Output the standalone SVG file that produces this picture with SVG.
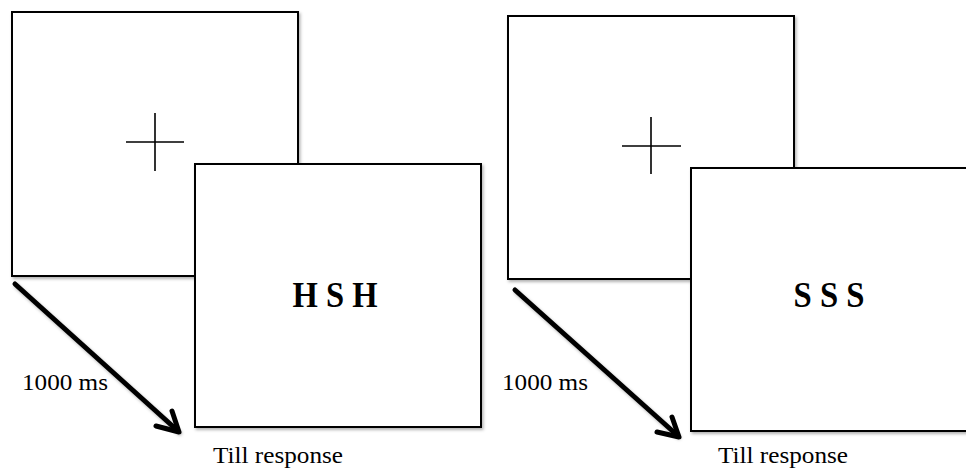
<svg xmlns="http://www.w3.org/2000/svg" width="966" height="469" viewBox="0 0 966 469">
  <style>
    .frame { fill: #ffffff; stroke: #000000; stroke-width: 2; filter: url(#shadow); }
    .fix { stroke: #000000; stroke-width: 1.6; fill: none; }
    .shaft { stroke: #000000; stroke-width: 5; fill: none; stroke-linecap: round; filter: url(#shadow); }
    .head { stroke: #000000; stroke-width: 5; fill: none; stroke-linecap: round; stroke-linejoin: round; }
    .label { font-family: "Liberation Serif", "Times New Roman", serif; font-size: 24px; fill: #000000; }
    .stim { font-family: "Liberation Serif", "Times New Roman", serif; font-size: 36px; font-weight: bold; fill: #000000; text-anchor: middle; }
  </style>
  <defs>
    <filter id="shadow" x="-10%" y="-10%" width="130%" height="130%">
      <feDropShadow dx="1.5" dy="2" stdDeviation="1.5" flood-color="#000000" flood-opacity="0.3"/>
    </filter>
  </defs>
  <rect width="966" height="469" fill="#ffffff"/>

  <!-- left trial: fixation screen -->
  <g id="fixation-left">
    <rect class="frame" x="12" y="12" width="286" height="264"/>
    <path class="fix" d="M126 142 H184 M155 113 V171"/>
  </g>
  <!-- left trial: stimulus screen -->
  <g id="stimulus-left">
    <rect class="frame" x="195" y="164" width="286" height="263"/>
    <text class="stim" x="335" y="307" textLength="85" lengthAdjust="spacingAndGlyphs">H S H</text>
  </g>

  <!-- right trial: fixation screen -->
  <g id="fixation-right">
    <rect class="frame" x="508" y="16" width="286" height="263"/>
    <path class="fix" d="M622 146 H681 M651 117 V174"/>
  </g>
  <!-- right trial: stimulus screen -->
  <g id="stimulus-right">
    <rect class="frame" x="691" y="168" width="300" height="263"/>
    <text class="stim" x="829" y="307" textLength="71" lengthAdjust="spacingAndGlyphs">S S S</text>
  </g>

  <!-- time arrows -->
  <g id="connectors">
    <line class="shaft" x1="15" y1="284" x2="178" y2="431"/>
    <polyline class="head" points="172,411 179,432 156,426"/>
    <line class="shaft" x1="515" y1="290" x2="677" y2="435"/>
    <polyline class="head" points="672,417 679,437 657,432"/>
  </g>

  <!-- timing labels -->
  <g id="labels">
    <text class="label" x="22" y="390" textLength="86" lengthAdjust="spacingAndGlyphs">1000 ms</text>
    <text class="label" x="213" y="463" textLength="130" lengthAdjust="spacingAndGlyphs">Till response</text>
    <text class="label" x="502" y="390" textLength="86" lengthAdjust="spacingAndGlyphs">1000 ms</text>
    <text class="label" x="718" y="463" textLength="130" lengthAdjust="spacingAndGlyphs">Till response</text>
  </g>
</svg>
